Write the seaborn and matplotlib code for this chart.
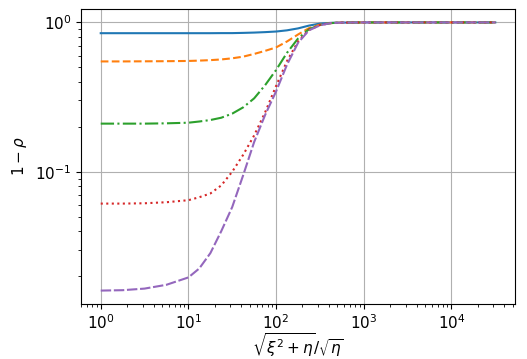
import pandas as pd
import seaborn as sns
import matplotlib
matplotlib.use('Agg')
import matplotlib.pyplot as plt

# sample positions
x_vals = [1, 1.78, 3.16, 5.62, 10, 13.3, 17.8, 23.7, 31.6, 42.2, 56.2, 75,
          100, 133, 178, 237, 316, 422, 562, 1000, 3162, 10000, 31623]

# 1 - rho for each curve
curve_a = [0.847, 0.847, 0.847, 0.847, 0.847, 0.847, 0.847, 0.848, 0.848, 0.851, 0.855, 0.861,
           0.869, 0.885, 0.912, 0.952, 0.982, 0.993, 0.997, 1.0, 1.0, 1.0, 1.0]
curve_b = [0.548, 0.548, 0.549, 0.550, 0.552, 0.555, 0.559, 0.565, 0.575, 0.590, 0.615, 0.645,
           0.680, 0.745, 0.830, 0.915, 0.965, 0.990, 0.997, 1.0, 1.0, 1.0, 1.0]
curve_c = [0.210, 0.210, 0.210, 0.211, 0.213, 0.217, 0.222, 0.230, 0.245, 0.270, 0.310, 0.380,
           0.480, 0.625, 0.780, 0.900, 0.960, 0.990, 0.997, 1.0, 1.0, 1.0, 1.0]
curve_d = [0.0612, 0.0612, 0.0615, 0.0625, 0.0645, 0.0675, 0.0715, 0.081, 0.100, 0.130, 0.175, 0.250,
           0.375, 0.550, 0.745, 0.890, 0.960, 0.990, 0.997, 1.0, 1.0, 1.0, 1.0]
curve_e = [0.0160, 0.0161, 0.0165, 0.0175, 0.0196, 0.0225, 0.0285, 0.040, 0.058, 0.095, 0.158, 0.240,
           0.345, 0.520, 0.730, 0.885, 0.955, 0.990, 0.997, 1.0, 1.0, 1.0, 1.0]

names = ['a', 'b', 'c', 'd', 'e']
curves = [curve_a, curve_b, curve_c, curve_d, curve_e]

rows = []
for name, ys in zip(names, curves):
    for x, y in zip(x_vals, ys):
        rows.append({'x': x, 'y': y, 'curve': name})
df = pd.DataFrame(rows)

fig = plt.figure(figsize=(5.27, 3.59), dpi=100)
ax = fig.add_axes([0.1537, 0.1532, 0.8235, 0.8217])

sns.lineplot(data=df, x='x', y='y', hue='curve', style='curve',
             palette=sns.color_palette('tab10', 5),
             dashes=['', (3.7, 1.6), (6.4, 1.6, 1, 1.6), (1, 1.65), (5, 1.3)],
             estimator=None, linewidth=1.5, legend=False, ax=ax)

ax.set_xscale('log')
ax.set_yscale('log')
ax.grid(True, which='major')
ax.tick_params(labelsize=11)
ax.set_xlabel(r'$\sqrt{\xi^2+\eta}/\sqrt{\eta}$', fontsize=11, labelpad=-1)
ax.set_ylabel(r'$1-\rho$', fontsize=11)

plt.savefig('out.png', dpi=100)
